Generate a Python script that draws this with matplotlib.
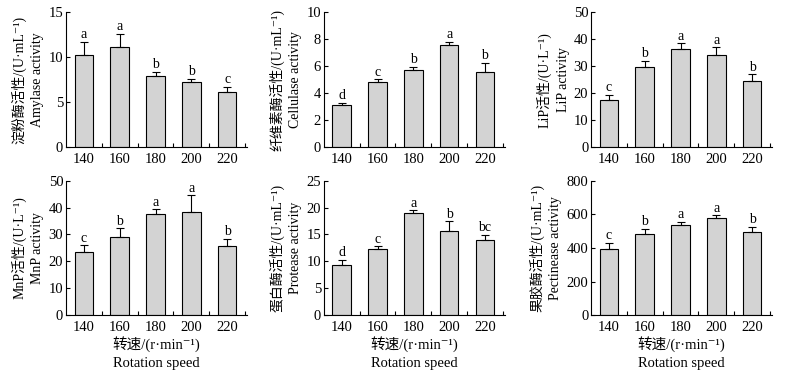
import numpy as np
import matplotlib.pyplot as plt

plt.rcParams['font.family'] = ['Liberation Serif', 'Noto Sans CJK SC', 'DejaVu Serif']
plt.rcParams['font.size'] = 10

speeds = ['140', '160', '180', '200', '220']

amylase = [10.3, 11.1, 7.9, 7.2, 6.15]
amylase_err = [1.45, 1.55, 0.5, 0.4, 0.55]
amylase_sig = ['a', 'a', 'b', 'b', 'c']

cellulase = [3.11, 4.86, 5.75, 7.58, 5.56]
cellulase_err = [0.17, 0.18, 0.22, 0.25, 0.7]
cellulase_sig = ['d', 'c', 'b', 'a', 'b']

lip = [17.3, 29.9, 36.4, 34.1, 24.6]
lip_err = [2.2, 2.2, 2.1, 2.9, 2.4]
lip_sig = ['c', 'b', 'a', 'a', 'b']

mnp = [23.6, 29.2, 37.5, 38.2, 25.7]
mnp_err = [2.3, 3.1, 1.8, 6.3, 2.6]
mnp_sig = ['c', 'b', 'a', 'a', 'b']

protease = [9.3, 12.2, 18.95, 15.6, 13.9]
protease_err = [1.0, 0.6, 0.5, 1.8, 1.0]
protease_sig = ['d', 'c', 'a', 'b', 'bc']

pectinase = [395, 484, 537, 577, 492]
pectinase_err = [34, 28, 16, 17, 34]
pectinase_sig = ['c', 'b', 'a', 'a', 'b']

panels = [
    (amylase, amylase_err, amylase_sig, '淀粉酶活性/(U·mL⁻¹)', 'Amylase activity', 15, 5),
    (cellulase, cellulase_err, cellulase_sig, '纤维素酶活性/(U·mL⁻¹)', 'Cellulase activity', 10, 2),
    (lip, lip_err, lip_sig, 'LiP活性/(U·L⁻¹)', 'LiP activity', 50, 10),
    (mnp, mnp_err, mnp_sig, 'MnP活性/(U·L⁻¹)', 'MnP activity', 50, 10),
    (protease, protease_err, protease_sig, '蛋白酶活性/(U·mL⁻¹)', 'Protease activity', 25, 5),
    (pectinase, pectinase_err, pectinase_sig, '果胶酶活性/(U·mL⁻¹)', 'Pectinease activity', 800, 200),
]

fig = plt.figure(figsize=(7.86, 3.77), dpi=100)
lefts = [0.084, 0.412, 0.752]
bottoms = [0.610, 0.164]
w, h = 0.230, 0.357

x = np.arange(len(speeds))
for i, (vals, err, sig, cn, en, ymax, step) in enumerate(panels):
    ax = fig.add_axes([lefts[i % 3], bottoms[i // 3], w, h])
    ax.bar(x, vals, width=0.52, color='#d3d3d3', edgecolor='black', linewidth=0.8,
           yerr=[np.zeros(len(vals)), err], capsize=3,
           error_kw=dict(elinewidth=0.8, capthick=0.8, ecolor='black'))
    for xi, v, e, s in zip(x, vals, err, sig):
        ax.text(xi, v + e + ymax * 0.005, s, ha='center', va='bottom', fontsize=10)
    ax.set_xlim(-0.5, 4.55)
    ax.set_ylim(0, ymax)
    ax.set_yticks(np.arange(0, ymax + step / 2, step))
    ax.set_xticks(x)
    ax.set_xticklabels(speeds, fontsize=10.5)
    ax.set_xticks(np.arange(0.5, 5, 1), minor=True)
    ax.tick_params(axis='x', which='major', length=0, pad=4)
    ax.tick_params(axis='x', which='minor', direction='in', length=3, width=0.8)
    ax.tick_params(axis='y', direction='in', length=3, width=0.8, labelsize=10.5, pad=2)
    ax.spines['top'].set_visible(False)
    ax.spines['right'].set_visible(False)
    for sp in ['left', 'bottom']:
        ax.spines[sp].set_linewidth(0.8)
    ax.set_ylabel(cn + '\n' + en, fontsize=10, linespacing=1.45, labelpad=3)
    if i >= 3:
        ax.set_xlabel('转速/(r·min⁻¹)\nRotation speed', fontsize=10.5, linespacing=1.45, labelpad=2)

fig.savefig('out.png', dpi=100)
